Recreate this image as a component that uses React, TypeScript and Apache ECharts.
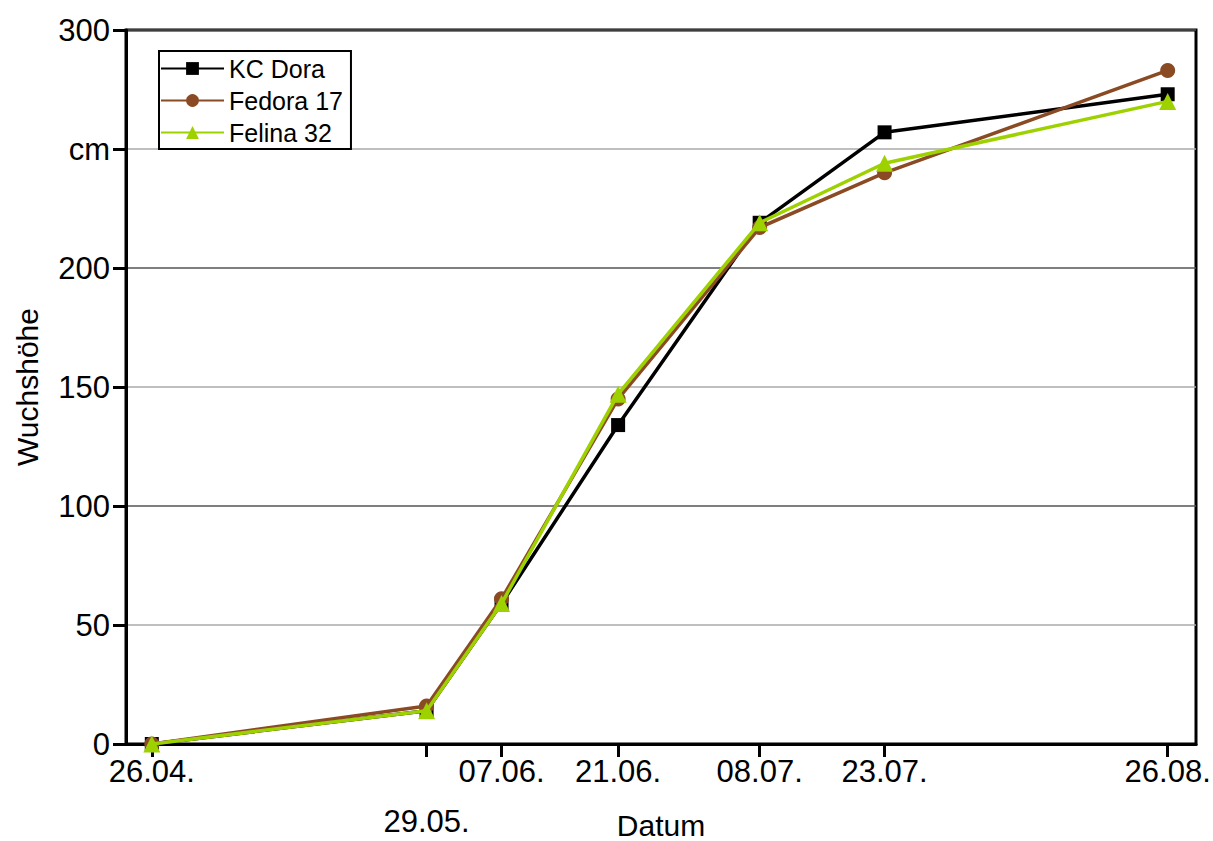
import React, { useEffect, useRef } from "react";
import * as echarts from "echarts";

const dateLabels = ["26.04.", "29.05.", "07.06.", "21.06.", "08.07.", "23.07.", "26.08."];
const kcDora = [0, 14, 59, 134, 219, 257, 273];
const fedora17 = [0, 16, 61, 145, 217, 240, 283];
const felina32 = [0, 14, 59, 147, 219, 244, 270];
const seriesNames = ["KC Dora", "Fedora 17", "Felina 32"];
const yTicks = [0, 50, 100, 150, 200, 250, 300];

const toDay = (lbl: string) => {
  const [d, m] = lbl.split(".").map(Number);
  return Date.UTC(2001, m - 1, d) / 86400000;
};
const day0 = toDay(dateLabels[0]);
const dayVals = dateLabels.map((l) => toDay(l) - day0);

export default function App() {
  const ref = useRef<HTMLDivElement>(null);
  useEffect(() => {
    const chart = echarts.init(ref.current!, undefined, { renderer: "svg" });
    const font = "Liberation Sans, Arial, sans-serif";
    const mk = (vals: number[]) => vals.map((v, i) => [dayVals[i], v]);
    chart.setOption({
      animation: false,
      backgroundColor: "#fff",
      textStyle: { fontFamily: font },
      grid: {
        left: 126,
        right: 17,
        top: 30,
        bottom: 97,
        outerBoundsMode: "none",
        containLabel: false,
        show: true,
        borderColor: "#000",
        borderWidth: 3,
      },
      legend: {
        orient: "vertical",
        left: 159,
        top: 51,
        data: seriesNames,
        itemWidth: 63,
        itemHeight: 16,
        itemGap: 7,
        padding: [5, 8, 4, 1],
        borderColor: "#000",
        borderWidth: 2,
        textStyle: { fontFamily: font, fontSize: 25, color: "#000" },
      },
      xAxis: {
        type: "value",
        min: -3.1,
        max: 125.4,
        name: "Datum",
        nameLocation: "middle",
        nameGap: 66,
        nameMoveOverlap: false,
        nameTextStyle: { fontFamily: font, fontSize: 30, lineHeight: 30, color: "#000" },
        axisLine: { show: true, onZero: false, lineStyle: { color: "#000", width: 3 } },
        axisTick: {
          show: true,
          customValues: dayVals,
          length: 13,
          lineStyle: { color: "#000", width: 3 },
        },
        axisLabel: {
          customValues: dayVals,
          fontFamily: font,
          fontSize: 31,
          color: "#000",
          margin: 12,
          formatter: (v: number) => {
            const i = dayVals.indexOf(v);
            const lbl = i >= 0 ? dateLabels[i] : "";
            return i === 1 ? "{low|" + lbl + "}" : lbl;
          },
          rich: {
            low: { fontFamily: font, fontSize: 31, color: "#000", padding: [50, 0, 0, 0] },
          },
        },
        splitLine: { show: false },
      },
      yAxis: {
        type: "value",
        min: 0,
        max: 300,
        interval: 50,
        name: "Wuchshöhe",
        nameLocation: "middle",
        nameRotate: 90,
        nameGap: 84,
        nameMoveOverlap: false,
        nameTextStyle: { fontFamily: font, fontSize: 30, color: "#000" },
        axisLine: { show: true, onZero: false, lineStyle: { color: "#000", width: 3 } },
        axisTick: { show: true, length: 13, lineStyle: { color: "#000", width: 3 } },
        axisLabel: {
          fontFamily: font,
          fontSize: 31,
          color: "#000",
          margin: 16,
          formatter: (v: number) => (v === 250 ? "cm" : yTicks.includes(v) ? String(v) : ""),
        },
        splitLine: { show: true, lineStyle: { color: ["#555", "#aaa"], width: 1.5 } },
      },
      series: [
        {
          name: seriesNames[0],
          type: "line",
          data: mk(kcDora),
          symbol: "rect",
          symbolSize: 14,
          itemStyle: { color: "#000" },
          lineStyle: { color: "#000", width: 3.5 },
          z: 3,
        },
        {
          name: seriesNames[1],
          type: "line",
          data: mk(fedora17),
          symbol: "circle",
          symbolSize: 15,
          itemStyle: { color: "#8A4B24" },
          lineStyle: { color: "#8A4B24", width: 3.5 },
          z: 4,
        },
        {
          name: seriesNames[2],
          type: "line",
          data: mk(felina32),
          symbol: "triangle",
          symbolSize: 17,
          itemStyle: { color: "#9ED100" },
          lineStyle: { color: "#9ED100", width: 3.5 },
          z: 5,
        },
      ],
    });
    return () => chart.dispose();
  }, []);
  return (
    <div
      ref={ref}
      style={{ position: "fixed", left: 0, top: 0, width: 1213, height: 841 }}
    />
  );
}
